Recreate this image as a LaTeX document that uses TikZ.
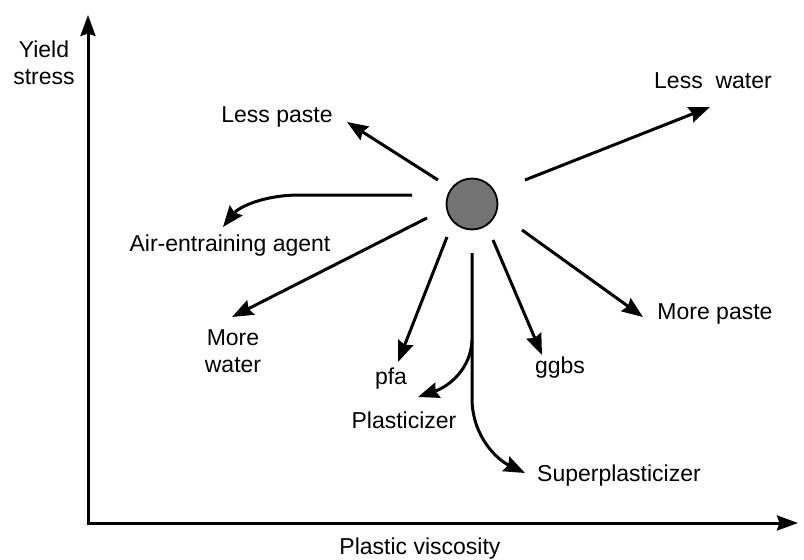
\documentclass[tikz,border=0pt]{standalone}
\usepackage{fontspec}
\setmainfont{Liberation Sans}
\usetikzlibrary{arrows.meta}
\begin{document}
\begin{tikzpicture}[x=1pt,y=-1pt,
  lbl/.style={inner sep=0pt, font=\fontsize{23}{27}\selectfont, align=center},
  arr/.style={line width=3pt, -{Stealth[length=21pt,width=16pt,inset=2.5pt]}},
  axis/.style={line width=3pt, -{Stealth[length=21pt,width=15pt,inset=2.5pt]}}]
\useasboundingbox (0,0) rectangle (804,560);
% axes
\coordinate (o) at (88,523);
\coordinate (ytip) at (88,15);
\coordinate (xtip) at (798,523);
\draw[axis] (o) -- (ytip);
\draw[axis] ([xshift=-1.5pt]o) -- (xtip);
\node[lbl] (ylab) at (44,63) {Yield\\stress};
\node[lbl] (xlab) at (420,549) {Plastic viscosity};
% centre
\node[circle, draw, line width=1.8pt, fill=black!55, minimum size=51pt, inner sep=0pt] (c) at (472,204) {};
% labels
\node[lbl] (lp) at (277,117) {Less paste};
\node[lbl] (lw) at (713,81) {Less\ \ water};
\node[lbl] (ae) at (230,246) {Air-entraining agent};
\node[lbl] (mw) at (233,351) {More\\water};
\node[lbl] (pfa) at (391,379) {pfa};
\node[lbl] (pl) at (404,420) {Plasticizer};
\node[lbl] (gg) at (560,368) {ggbs};
\node[lbl] (mp) at (715,314) {More paste};
\node[lbl] (sp) at (619,476) {Superplasticizer};
% start / end points
\coordinate (s1) at (438,180); \coordinate (t1) at (347,122);
\coordinate (s2) at (525,180); \coordinate (t2) at (710,107);
\coordinate (s3) at (412,195); \coordinate (t3) at (223,227);
\coordinate (s4) at (427,218); \coordinate (t4) at (232,317);
\coordinate (s5) at (447,237); \coordinate (t5) at (398,362);
\coordinate (s6) at (493,240); \coordinate (t6) at (542,355);
\coordinate (s7) at (522,230); \coordinate (t7) at (643,317);
\coordinate (s8) at (472,253); \coordinate (b8) at (472,340);
\coordinate (t8) at (418,397); \coordinate (t9) at (525,473);
% connectors
\draw[arr] (s1) -- (t1);
\draw[arr] (s2) -- (t2);
\draw[arr] (s3) -- (300,195) .. controls (262,195) and (238,208) .. (t3);
\draw[arr] (s4) -- (t4);
\draw[arr] (s5) -- (t5);
\draw[arr] (s6) -- (t6);
\draw[arr] (s7) -- (t7);
\draw[arr] (b8) .. controls (471,368) and (450,386) .. (t8);
\draw[arr] (s8) -- (472,400) .. controls (473,438) and (498,460) .. (t9);
\end{tikzpicture}
\end{document}
